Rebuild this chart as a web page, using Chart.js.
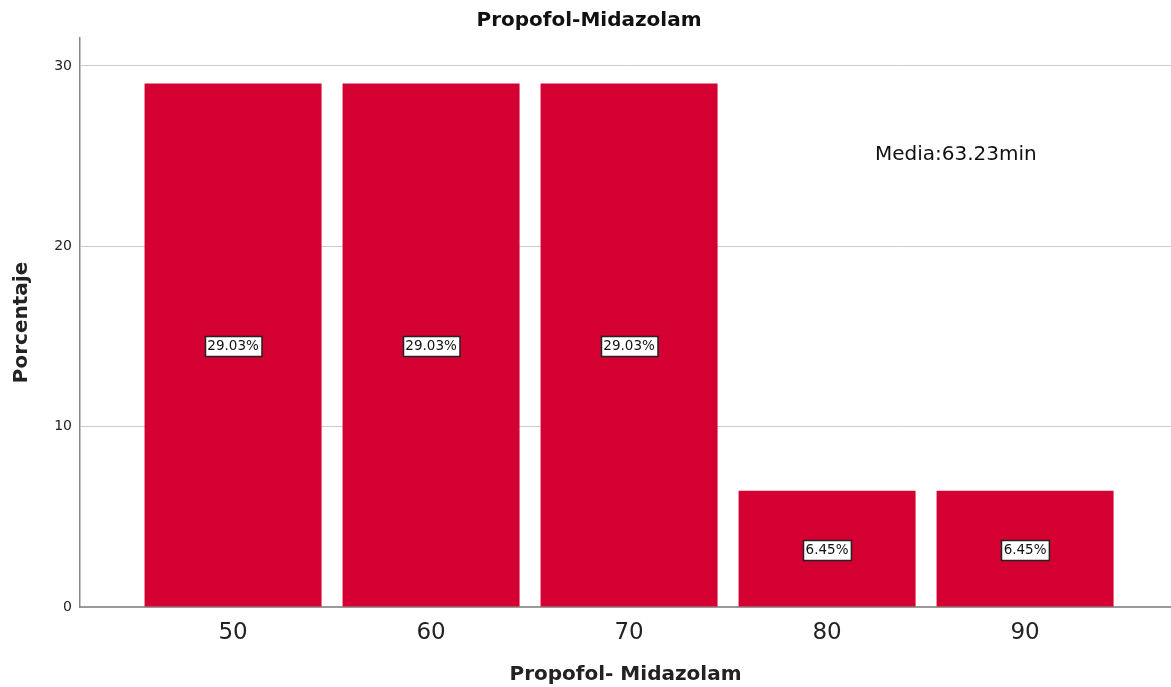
<!DOCTYPE html>
<html>
<head>
<meta charset="utf-8">
<script src="https://cdn.jsdelivr.net/npm/chart.js@4/dist/chart.umd.min.js"></script>
<style>
  html, body { margin: 0; padding: 0; background: #fff; }
  #wrap { width: 1171px; height: 687px; }
</style>
</head>
<body>
<div id="wrap"><canvas id="c" width="1171" height="687"></canvas></div>
<script>
// Duration categories (minutes) and percentage of cases in each
const categories = [50, 60, 70, 80, 90];
const percentages = [29.03, 29.03, 29.03, 6.45, 6.45];
const yTicks = [0, 10, 20, 30];
const chartTitle = 'Propofol-Midazolam';
const xTitle = 'Propofol- Midazolam';
const yTitle = 'Porcentaje';
const meanLabel = 'Media:63.23min';
const meanPos = { x: 86.5, y: 25.05 };

const FONT = '"DejaVu Sans", "Noto Sans", sans-serif';

// Boxed percentage labels centred inside each bar, plus the mean note and title
const overlay = {
  id: 'overlay',
  afterDatasetsDraw(chart) {
    const ctx = chart.ctx;
    const meta = chart.getDatasetMeta(0);
    ctx.save();
    ctx.font = '13.5px ' + FONT;
    ctx.textAlign = 'center';
    ctx.textBaseline = 'middle';
    meta.data.forEach((bar, i) => {
      const txt = percentages[i].toFixed(2) + '%';
      const cy = (bar.y + bar.base) / 2 + 1.5;
      const w = ctx.measureText(txt).width + 5;
      const h = 20;
      const x0 = Math.round(bar.x - w / 2) + 0.5;
      const y0 = Math.round(cy - h / 2) + 0.5;
      ctx.fillStyle = '#fff';
      ctx.fillRect(x0, y0, w, h);
      ctx.strokeStyle = '#222';
      ctx.lineWidth = 1.5;
      ctx.strokeRect(x0, y0, w, h);
      ctx.fillStyle = '#111';
      ctx.fillText(txt, bar.x, cy + 0.5);
    });
    // mean annotation
    const xs = chart.scales.x, ys = chart.scales.y;
    ctx.font = '20px ' + FONT;
    ctx.fillStyle = '#111';
    ctx.fillText(meanLabel, xs.getPixelForValue(meanPos.x), ys.getPixelForValue(meanPos.y));
    // chart title
    ctx.font = 'bold 20px ' + FONT;
    ctx.fillText(chartTitle, 589, 21);
    ctx.restore();
  }
};

new Chart(document.getElementById('c'), {
  type: 'bar',
  data: {
    datasets: [{
      data: categories.map((c, i) => ({ x: c, y: percentages[i] })),
      backgroundColor: '#d50032',
      borderWidth: 0,
      barPercentage: 0.894,
      categoryPercentage: 1.0
    }]
  },
  options: {
    responsive: false,
    animation: false,
    layout: { padding: { top: 38, left: 0, right: 0, bottom: 0 } },
    plugins: { legend: { display: false }, tooltip: { enabled: false }, title: { display: false } },
    scales: {
      x: {
        type: 'linear',
        offset: false,
        min: 42.27,
        max: 97.37,
        afterBuildTicks(scale) { scale.ticks = categories.map(v => ({ value: v })); },
        afterFit(scale) { scale.height = 80; },
        grid: { display: false, drawTicks: false },
        border: { display: true, color: '#999', width: 2 },
        ticks: { font: { family: FONT, size: 23 }, color: '#222', padding: 12, autoSkip: false, maxRotation: 0 },
        title: { display: true, text: xTitle, font: { family: FONT, size: 20, weight: 'bold' }, color: '#222', padding: { top: 7, bottom: 0 } }
      },
      y: {
        min: 0,
        max: 31.55,
        afterBuildTicks(scale) { scale.ticks = yTicks.map(v => ({ value: v })); },
        afterFit(scale) { scale.width = 80; },
        grid: { color: '#cccccc', lineWidth: 1, drawTicks: false },
        border: { display: true, color: '#888', width: 1.5 },
        ticks: { font: { family: FONT, size: 14 }, color: '#222', padding: 8 },
        title: { display: true, text: yTitle, font: { family: FONT, size: 20, weight: 'bold' }, color: '#222', padding: { top: 10, bottom: 22 } }
      }
    }
  },
  plugins: [overlay]
});
</script>
</body>
</html>
